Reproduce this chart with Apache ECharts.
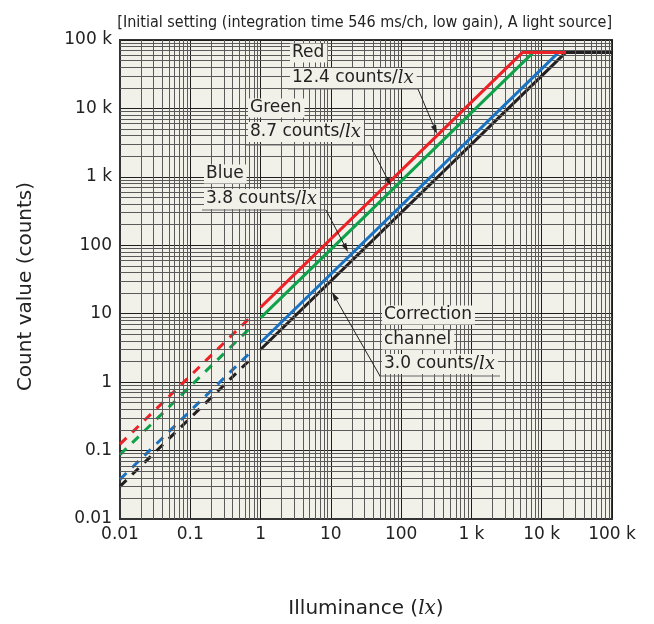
<!DOCTYPE html>
<html>
<head>
<meta charset="utf-8">
<script src="https://cdn.jsdelivr.net/npm/echarts@6/dist/echarts.min.js"></script>
<style>html,body{margin:0;padding:0;background:#fff}#c{width:654px;height:624px}</style>
</head>
<body>
<div id="c"></div>
<script>
// ---- data ----
const titleText = '[Initial setting (integration time 546 ms/ch, low gain), A light source]';
const tickLabels = ['0.01', '0.1', '1', '10', '100', '1 k', '10 k', '100 k'];
const xName = 'Illuminance ({i|lx})';
const yName = 'Count value (counts)';

const redDashed   = [[0.01, 0.124], [0.8, 9.92]];
const redSolid    = [[1, 12.4], [5285, 65535], [21845, 65535]];
const greenDashed = [[0.01, 0.087], [0.8, 6.96]];
const greenSolid  = [[1, 8.7], [7533, 65535], [21845, 65535]];
const blueDashed  = [[0.01, 0.038], [0.8, 3.04]];
const blueSolid   = [[1, 3.8], [17246, 65535], [21845, 65535]];
const blackDashed = [[0.01, 0.03], [0.8, 2.4]];
const blackSolid  = [[1, 3.0], [21845, 65535], [100000, 65535]];

const labelRed   = [['Red'], ['12.4 counts/', 'lx']];
const labelGreen = [['Green'], ['8.7 counts/', 'lx']];
const labelBlue  = [['Blue'], ['3.8 counts/', 'lx']];
const labelCorr  = [['Correction'], ['channel'], ['3.0 counts/', 'lx']];

// ---- styles / layout ----
const FONTC = "'DejaVu Sans Condensed', 'DejaVu Sans', sans-serif";
const FONT = "'DejaVu Sans', sans-serif";
const SERIF = "'DejaVu Serif', 'Liberation Serif', serif";
const BG = '#f2f1e9';
const C = {red: '#ec2227', green: '#10a14b', blue: '#1a72c2', black: '#231f20'};
const G = {left: 120, top: 40, width: 492, height: 488};

const minorX = [], minorY = [];
for (let e = -2; e <= 4; e++) {
  for (let k = 2; k <= 9; k++) {
    minorX.push({xAxis: k * Math.pow(10, e)});
    minorY.push({yAxis: k * Math.pow(10, e)});
  }
}

const chart = echarts.init(document.getElementById('c'), null, {renderer: 'canvas'});

function fmt(v) {
  const i = Math.round(Math.log10(v)) + 2;
  return tickLabels[i] !== undefined ? tickLabels[i] : '';
}

function lineSeries(data, color, dashed, z) {
  return {
    type: 'line', data: data, showSymbol: false, symbol: 'none', silent: true,
    animation: false, z: z,
    lineStyle: {color: color, width: 3, type: dashed ? [9, 8] : 'solid', cap: 'butt'}
  };
}

chart.setOption({
  animation: false,
  backgroundColor: '#ffffff',
  title: {
    text: titleText, right: 37, top: 10,
    textStyle: {fontFamily: FONTC, fontSize: 16, fontWeight: 'normal', color: '#222'}
  },
  grid: Object.assign({show: true, backgroundColor: BG, borderColor: '#333', borderWidth: 2, containLabel: false}, G),
  xAxis: {
    type: 'log', logBase: 10, min: 0.01, max: 100000, splitNumber: 7,
    name: xName, nameLocation: 'middle', nameGap: 80,
    nameTextStyle: {fontFamily: FONT, fontSize: 20, color: '#222',
      rich: {i: {fontFamily: SERIF, fontStyle: 'italic', fontSize: 20, color: '#222'}}},
    axisLine: {show: true, lineStyle: {color: '#333', width: 2}},
    axisTick: {show: false},
    axisLabel: {formatter: fmt, fontFamily: FONT, fontSize: 17, color: '#222', margin: 7, showMinLabel: true, showMaxLabel: true},
    splitLine: {show: true, lineStyle: {color: '#1e1e1e', width: 1}}
  },
  yAxis: {
    type: 'log', logBase: 10, min: 0.01, max: 100000, splitNumber: 7,
    name: yName, nameLocation: 'middle', nameGap: 84,
    nameTextStyle: {fontFamily: FONT, fontSize: 20, color: '#222', padding: [0, 14, 0, 0]},
    axisLine: {show: true, lineStyle: {color: '#333', width: 2}},
    axisTick: {show: false},
    axisLabel: {formatter: fmt, fontFamily: FONT, fontSize: 17, color: '#222', margin: 8, showMinLabel: true, showMaxLabel: true},
    splitLine: {show: true, lineStyle: {color: '#1e1e1e', width: 1}}
  },
  series: [
    {
      type: 'line', data: blackSolid, silent: true, symbol: 'none', z: 1,
      lineStyle: {opacity: 0},
      markLine: {
        silent: true, symbol: ['none', 'none'], label: {show: false}, animation: false,
        lineStyle: {color: '#5a5a5a', width: 1, type: 'solid'},
        emphasis: {disabled: true},
        data: minorX.concat(minorY)
      }
    },
    lineSeries(blackDashed, C.black, true, 3),
    lineSeries(blueDashed, C.blue, true, 3),
    lineSeries(greenDashed, C.green, true, 3),
    lineSeries(redDashed, C.red, true, 3),
    lineSeries(blackSolid, C.black, false, 4),
    lineSeries(blueSolid, C.blue, false, 5),
    lineSeries(greenSolid, C.green, false, 6),
    lineSeries(redSolid, C.red, false, 7)
  ]
});

// ---- annotations (layout in pixels) ----
const annLayout = [
  {text: labelRed,   x: 290, ys: [53, 78],       ul: [288, 89, 418],  from: [418, 89],  tip: [437, 134]},
  {text: labelGreen, x: 248, ys: [108, 132],     ul: [246, 145, 370], from: [370, 145], tip: [391, 186]},
  {text: labelBlue,  x: 204, ys: [174, 199],     ul: [202, 210, 326], from: [326, 210], tip: [348, 252]},
  {text: labelCorr,  x: 382, ys: [315, 340, 364], ul: [379, 376, 500], from: [380, 376], tip: [332, 292]}
];

const graphics = [];
annLayout.forEach(function (a) {
  a.text.forEach(function (ln, i) {
    const t = ln.length > 1 ? '{a|' + ln[0] + '}{i|' + ln[1] + '}' : '{a|' + ln[0] + '}';
    graphics.push({
      type: 'text', z: 50, silent: true,
      style: {
        x: a.x, y: a.ys[i], text: t, verticalAlign: 'middle', align: 'left',
        backgroundColor: BG, padding: [1, 3, 1, 2],
        rich: {
          a: {fontFamily: FONT, fontSize: 17, fill: '#222', color: '#222'},
          i: {fontFamily: SERIF, fontStyle: 'italic', fontSize: 18, fill: '#222', color: '#222'}
        }
      }
    });
  });
  graphics.push({type: 'line', z: 51, silent: true,
    shape: {x1: a.ul[0], y1: a.ul[1], x2: a.ul[2], y2: a.ul[1]},
    style: {stroke: '#666', lineWidth: 1.2}});
  const dx = a.tip[0] - a.from[0], dy = a.tip[1] - a.from[1];
  const len = Math.sqrt(dx * dx + dy * dy), ux = dx / len, uy = dy / len;
  const L = 9, W = 2.8;
  const bx = a.tip[0] - ux * L, by = a.tip[1] - uy * L;
  graphics.push({type: 'line', z: 51, silent: true,
    shape: {x1: a.from[0], y1: a.from[1], x2: bx, y2: by},
    style: {stroke: '#222', lineWidth: 1}});
  graphics.push({type: 'polygon', z: 52, silent: true,
    shape: {points: [[a.tip[0], a.tip[1]], [bx - uy * W, by + ux * W], [bx + uy * W, by - ux * W]]},
    style: {fill: '#222'}});
});
chart.setOption({graphic: graphics});
</script>
</body>
</html>
